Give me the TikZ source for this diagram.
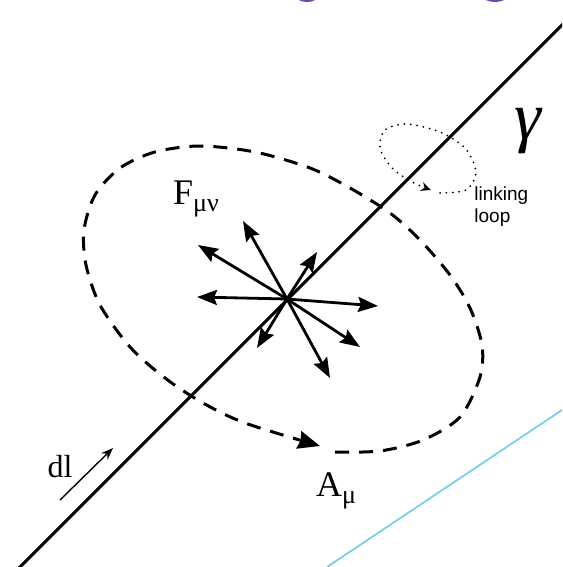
\documentclass[tikz,border=0pt]{standalone}
\usepackage{fontspec}
\setmainfont{Liberation Serif}
\newfontfamily\labelsans{Liberation Sans}
\usetikzlibrary{arrows.meta}
\definecolor{blobpurple}{RGB}{112,72,164}
\definecolor{skyline}{RGB}{115,200,235}
\newcommand{\lowsub}[1]{\raisebox{-0.4ex}{\fontsize{13}{13}\selectfont #1}}
\tikzset{
    wire/.style={line width=1.5pt},
    fieldarrow/.style={line width=1.4pt, -{Stealth[length=10pt, width=7.5pt, inset=1.5pt]}},
    gaugeloop/.style={line width=1.5pt, dash pattern=on 7pt off 5pt, -{Stealth[length=11pt, width=9pt, inset=1pt]}},
    linkloop/.style={line width=1pt, line cap=round, dash pattern=on 0pt off 3.2pt, -{Stealth[length=5pt, width=4.5pt]}},
    symlabel/.style={inner sep=0pt, font=\fontsize{18}{18}\selectfont}
}

\begin{document}
\begin{tikzpicture}[x=0.5pt, y=-0.5pt]
        \clip (0,0) rectangle (562,567);

        % bits of the next picture, cut off at the top
        \fill[blobpurple] (307,-16) circle (18);
        \fill[blobpurple] (495,-20) circle (22);

        % the line gamma
        \coordinate (g0) at (0,587);
        \coordinate (g1) at (600,-13);
        \draw[wire] (g0) -- (g1);

        % light blue line at the bottom right
        \coordinate (s0) at (327,567);
        \coordinate (s1) at (580,398);
        \draw[skyline, line width=0.8pt] (s0) -- (s1);

        % field strength arrows
        \coordinate (o) at (287,299);
        \foreach \x/\y/\n in {243/221/1, 198/245/2, 197/297/3, 317/252/4,
                              378/306/5, 360/347/6, 330/378/7, 257/348/8}
            \coordinate (f\n) at (\x,\y);
        \foreach \n in {1,...,8}
            \draw[fieldarrow] (o) -- (f\n);

        % gauge field loop
        \draw[gaugeloop] plot[smooth] coordinates {
            (335,452) (380,451) (423,440) (460,417) (480,377) (482,345)
            (470,308) (450,275) (420,240) (390,213) (350,188) (310,168)
            (255,152) (200,146) (155,152) (120,168) (95,195) (84,230)
            (86,265) (100,305) (130,347) (165,378) (203,403) (245,423)
            (320,446)};

        % linking loop
        \draw[linkloop] plot[smooth] coordinates {
            (440,193) (466,190) (476,172) (465,148) (440,132) (407,124)
            (385,130) (380,148) (392,168) (412,182) (431,190)};

        % line element
        \coordinate (d0) at (60,500);
        \coordinate (d1) at (113,448);
        \draw[line width=0.7pt, -{Stealth[length=6pt, width=4.5pt]}] (d0) -- (d1);

        % labels
        \node[inner sep=0pt, font=\itshape\fontsize{34}{34}\selectfont] (gamma) at (528,131) {γ};
        \node[symlabel] (fmn) at (196,199) {F\lowsub{μν}};
        \node[symlabel] (amu) at (336,491) {A\lowsub{μ}};
        \node[inner sep=0pt, font=\fontsize{16}{16}\selectfont] (dl) at (60,467) {dl};
        \node[inner sep=0pt, anchor=north west, align=left,
              font=\labelsans\fontsize{9.5}{11}\selectfont] (linktext) at (474,186) {linking\\loop};
    \end{tikzpicture}
\end{document}
